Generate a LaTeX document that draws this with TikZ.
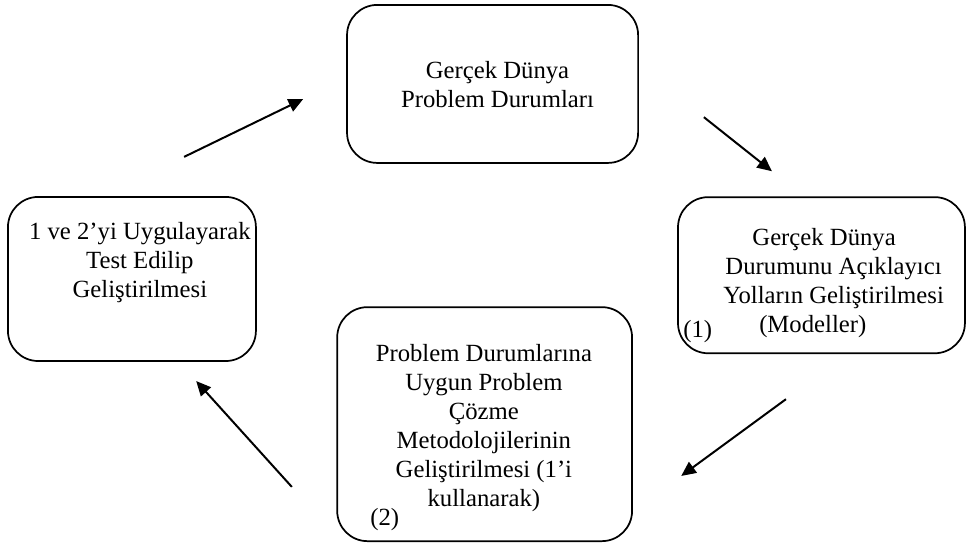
\documentclass[tikz,border=0pt]{standalone}
\usepackage{fontspec}
\setmainfont{Liberation Serif}
\usetikzlibrary{arrows.meta}

\tikzset{
    box/.style={draw, line width=1.3pt, rounded corners=0.8cm, inner sep=0pt},
    boxtext/.style={align=center, anchor=north, inner sep=0pt,
        font=\fontsize{18.6}{21.8}\selectfont},
    tag/.style={anchor=base west, inner sep=0pt,
        font=\fontsize{18.6}{21.8}\selectfont},
    flow/.style={-{Triangle[length=11pt,width=10pt]}, line width=1.5pt}
}

\begin{document}
\begin{tikzpicture}
    \useasboundingbox (0,0) rectangle (25.58,14.34);

    % Boxes
    \node[box, minimum width=7.70cm, minimum height=4.18cm] (world) at (13.03,12.12) {};
    \node[box, minimum width=7.59cm, minimum height=4.13cm] (models) at (21.73,7.06) {};
    \node[box, minimum width=7.80cm, minimum height=6.19cm] (methods) at (12.82,3.12) {};
    \node[box, minimum width=6.56cm, minimum height=4.34cm] (testing) at (3.49,6.96) {};

    % Texts
    \node[boxtext] (worldText) at (13.16,12.73) {Gerçek Dünya\\Problem Durumları};
    \node[boxtext] (modelsText) at (22.05,8.30)
        {Gerçek Dünya\hspace*{0.5cm}\\Durumunu Açıklayıcı\\Yolların Geliştirilmesi\\(Modeller)\hspace*{1.1cm}};
    \node[tag] (one) at (18.07,5.40) {(1)};
    \node[boxtext] (methodsText) at (12.80,5.24)
        {Problem Durumlarına\\Uygun Problem\\Çözme\\Metodolojilerinin\\Geliştirilmesi (1’i\\kullanarak)};
    \node[tag] (two) at (9.79,0.45) {(2)};
    \node[boxtext] (testingText) at (3.70,8.47) {1 ve 2’yi Uygulayarak\\Test Edilip\\Geliştirilmesi};

    % Arrow ends
    \coordinate (a1s) at (4.87,10.19);
    \coordinate (a1e) at (8.02,11.72);
    \coordinate (a2s) at (18.62,11.24);
    \coordinate (a2e) at (20.42,9.81);
    \coordinate (a3s) at (20.79,3.78);
    \coordinate (a3e) at (18.02,1.75);
    \coordinate (a4s) at (7.72,1.46);
    \coordinate (a4e) at (5.19,4.26);

    % Cycle arrows
    \draw[flow] (a1s) -- (a1e);
    \draw[flow] (a2s) -- (a2e);
    \draw[flow] (a3s) -- (a3e);
    \draw[flow] (a4s) -- (a4e);
\end{tikzpicture}
\end{document}
